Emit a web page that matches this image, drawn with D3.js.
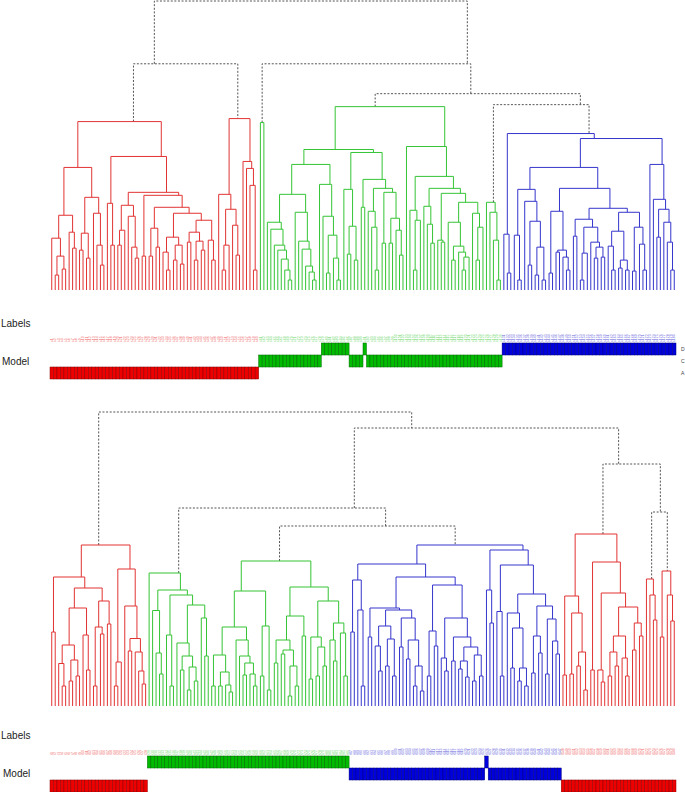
<!DOCTYPE html>
<html>
<head>
<meta charset="utf-8">
<script src="https://cdn.jsdelivr.net/npm/d3@7/dist/d3.min.js"></script>
<style>
  body { margin: 0; background: #fff; }
  svg { display: block; }
  text { font-family: "Liberation Sans", Arial, sans-serif; }
</style>
</head>
<body>
<div id="chart"></div>
<script>
// node = [height, left, right, cluster class], leaf = 0
var L = 0;

// ---- top dendrogram ----
var topRedA = [16.9,
    [12.3,
        [7.5, [5.2, L, [3.4, [1.5, L, L], [2.1, L, L]]], [5.8, L, [4.2, L, L]]],
        [9.3, [5.7, [4.0, L, L], [3.2, L, L]], [7.7, L, [4.5, L, [2.5, L, L]]]]],
    [13.4,
        [8.7, L, [4.5, L, L]],
        [9.8,
            [8.5, [6.0, [4.5, L, L], L], [7.4, L, [4.3, L, [3.2, L, L]]]],
            [9.5, [3.4, L, L],
                [8.3, [6.2, [3.4, L, L], [4.3, L, L]],
                    [7.7, [5.3, [3.8, L, [2.0, L, L]], [4.5, [3.0, L, L], [2.6, L, L]]],
                        [7.0, [5.8, [4.8, L, L], [4.9, [3.0, L, L], [4.0, L, L]]], [5.0, L, [3.0, L, L]]]]]]]],
    "A"];
var topRedB = [17.2,
    [9.6, L, [8.1, [4.5, [2.0, L, L], L], [6.5, L, [3.5, L, L]]]],
    [12.9, L, [12.2, L, [10.5, L, [2.0, L, L]]]],
    "A"];
var topGreenPair = [16.8, L, L, "C"];
var topGreenMain = [18.4,
    [14.1,
        [12.6,
            [9.6, [6.8, L, [6.1, L, [4.5, L, [4.0, L, [3.1, L, [2.0, L, [1.0, L, L]]]]]]],
                  [7.8, L, [4.9, L, [4.1, L, [2.4, L, [1.8, L, [1.0, L, L]]]]]]],
            [10.6, L, [7.4, L, [5.5, [1.7, L, L], [3.2, L, [1.0, L, L]]]]]],
        [13.8,
            [10.1, L, [6.4, [3.6, L, L], [3.0, L, L]]],
            [11.1, [8.3, L, L],
                [10.2, [7.9, L, [6.3, L, [2.0, L, L]]],
                       [9.8, [4.7, L, L], [7.2, [4.7, L, L], [6.0, L, [3.5, L, L]]]]]]]],
    [14.4, L,
        [11.4, [8.0, L, [7.0, [2.0, L, L], L]],
            [10.2, [8.4, L, [6.6, L, [4.7, L, L]]],
                [9.7, [5.0, L, [4.8, L, L]],
                    [8.8, [6.8, L, [4.4, [3.0, L, L], [3.8, L, [3.3, [2.0, L, L], L]]]],
                          [7.7, L, [6.3, [3.0, L, L], L]]]]]]],
    "C"];
var topGreenSmall = [8.8, L, [7.8, L, [5.0, L, [1.0, L, L]]], "C"];
var topBlue = [15.7,
    [5.6, L, [1.7, L, L]],
    [15.2,
        [12.3,
            [10.1, [5.5, L, [1.0, L, L]], [8.9, L, [6.9, [2.5, L, L], [4.3, [1.5, L, L], [1.0, L, L]]]]],
            [10.2,
                [7.9, [1.7, L, L], [4.0, [3.8, L, L], [3.3, L, [2.0, L, L]]]],
                [8.2,
                    [7.1, [5.4, L, L], [6.3, [3.7, [1.0, L, L], L], [4.8, L, [4.3, [3.2, L, L], [3.3, L, L]]]]],
                    [7.8, [5.9, [4.4, L, [2.0, L, L]], [3.0, [2.2, L, L], [2.0, L, L]]],
                          [6.3, [1.9, L, L], [4.6, L, [2.0, L, L]]]]]]],
        [12.6, L, [9.1, L, [8.1, [5.3, L, L], [6.8, L, [4.8, L, [2.0, L, L]]]]]]],
    "D"];
var topTree = [29.0,
    [22.7, topRedA, topRedB],
    [22.7, topGreenPair, [19.7, topGreenMain, [18.6, topGreenSmall, topBlue]]]];

// ---- bottom dendrogram ----
var botRedLeft = [16.1,
    [12.9, [7.4, L, L],
        [11.8,
            [9.8, [6.1, [4.25, L, [2.0, L, L]], [4.6, [2.5, L, L], [3.0, L, L]]], [7.1, L, [3.6, L, L]]],
            [10.5, [7.9, [2.0, L, L], [7.2, L, L]], [8.2, L, L]]]],
    [13.7, [4.4, [2.0, L, L], L],
        [10.0, L, [6.75, [5.5, L, L], [5.4, L, [3.5, L, [2.2, L, L]]]]]],
    "A"];
var botGreen1 = [13.3, L,
    [11.6,
        [9.55, L, [5.3, L, [3.2, L, L]]],
        [11.1, [7.1, L, [2.0, L, L]],
            [10.1, [6.3, L, [5.0, [3.6, L, L], [3.9, [1.6, L, L], [2.5, L, L]]]],
                   [8.8, L, [5.0, L, L]]]]],
    "C"];
var botGreen2 = [14.5,
    [11.5,
        [7.9, [5.1, [2.0, L, L], [3.4, [2.0, L, L], [2.1, L, [1.4, L, L]]]],
              [6.6, L, [5.0, L, [4.3, [3.1, L, L], [3.2, L, [2.0, L, L]]]]]],
        [8.0, [3.0, L, L], [1.6, L, L]]],
    [11.9,
        [9.0, [6.6, [4.3, L, L], [5.6, [5.2, L, L], [4.0, [1.0, L, L], [2.0, L, L]]]], [7.0, L, L]],
        [10.5, [6.9, [2.7, L, L], [5.9, [3.0, L, L], [4.0, L, L]]],
               [8.3, [6.6, L, [4.5, L, L]], [7.3, L, [3.0, L, L]]]]],
    "C"];
var botBlue = [16.1,
    [14.2,
        [12.6, [7.4, L, L], [9.6, L, [2.0, L, L]]],
        [12.9,
            [9.8, [6.9, L, L],
                [9.6, [8.0, [6.0, L, [3.5, L, L]], [6.7, [4.0, L, L], [3.0, L, L]]],
                      [8.8, [5.9, L, L], [6.6, [4.7, L, L], [4.0, [2.0, L, L], [1.5, L, L]]]]]],
            [12.1, [7.5, [3.0, L, L], [6.0, L, L]],
                [8.8, [4.8, L, [3.5, L, L]],
                      [6.9, [4.5, L, L], [5.9, [4.5, [3.7, L, L], [2.9, L, L]], [5.1, [2.5, L, L], [3.0, L, L]]]]]]]],
    [15.6, [11.6, L, [8.3, L, L]],
        [14.1, [9.45, L, [3.0, L, L]],
            [11.2, [9.3, L, [7.8, [3.8, L, L], [3.8, [2.5, L, L], [2.0, L, L]]]],
                   [10.0, [7.0, [3.3, L, L], [5.3, L, L]], [8.7, [3.2, L, L], [6.5, L, [5.2, L, L]]]]]]],
    "D"];
var botRedRight1 = [17.2,
    [11.0, [3.1, L, L], [9.3, [3.2, L, L], [5.4, [4.0, L, L], [1.6, L, L]]]],
    [14.4, [3.6, L, L],
        [11.3, [3.6, L, [2.4, L, L]],
            [9.9, [7.0, [5.4, [3.0, L, L], [4.0, L, L]], [4.8, L, [3.0, L, L]]],
                  [8.3, [5.6, L, L], [7.0, L, L]]]]],
    "A"];
var botRedRight2 = [12.7, L, [11.1, L, [8.6, L, L]], "A"];
var botRedRight3 = [13.5, [6.9, L, L], [11.1, L, [8.5, L, L]], "A"];
var botTree = [29.4,
    botRedLeft,
    [27.8,
        [19.8, botGreen1, [18.0, botGreen2, botBlue]],
        [24.2, botRedRight1, [19.4, botRedRight2, botRedRight3]]]];

// ---- model assignments (class, run length) in leaf order ----
var topModel = [["A", 60], ["C", 18], ["D", 8], ["C", 4], ["D", 1], ["C", 39], ["D", 50]];
var botModel = [["A", 28], ["C", 58], ["D", 39], ["C", 1], ["D", 21], ["A", 33]];
var topRows = ["D", "C", "A"];
var botRows = ["C", "D", "A"];

var lineColor = { A: "#e23333", C: "#35c435", D: "#3535cc" };
var labelColor = { A: "#f06a6a", C: "#6cd86c", D: "#6a6ae0" };
var cellColor = { A: "#ee0000", C: "#00bb00", D: "#0000dd" };

var width = 685, height = 792;
var svg = d3.select("#chart").append("svg")
    .attr("width", width)
    .attr("height", height);

function drawPanel(cfg) {
    var g = svg.append("g");
    var root = d3.hierarchy(cfg.tree, function (d) {
        return Array.isArray(d) ? [d[1], d[2]] : null;
    });
    var leaves = root.leaves();
    var x = d3.scaleBand()
        .domain(d3.range(leaves.length))
        .range([50, 676]);
    var bw = x.bandwidth();
    var y = d3.scaleLinear()
        .domain([0, cfg.tree[0]])
        .range([cfg.base, cfg.top]);

    leaves.forEach(function (l, i) { l.idx = i; });
    root.eachAfter(function (n) {
        if (!n.children) {
            n.px = x(n.idx) + bw / 2;
            n.first = n.last = n.px;
            n.h = 0;
        } else {
            n.first = n.children[0].first;
            n.last = n.children[1].last;
            n.px = (n.first + n.last) / 2;
            n.h = n.data[0];
        }
    });
    root.eachBefore(function (n) {
        var own = Array.isArray(n.data) && n.data[3];
        n.cls = own || (n.parent ? n.parent.cls : null);
    });

    var inner = root.descendants().filter(function (n) { return n.children; });
    g.selectAll(".link")
        .data(inner)
        .enter().append("path")
        .attr("class", "link")
        .attr("fill", "none")
        .attr("d", function (n) {
            var a = n.children[0], b = n.children[1];
            return "M" + a.px + "," + y(a.h) + "V" + y(n.h) + "H" + b.px + "V" + y(b.h);
        })
        .attr("stroke", function (n) { return n.cls ? lineColor[n.cls] : "#555"; })
        .attr("stroke-width", 1)
        .attr("stroke-dasharray", function (n) { return n.cls ? null : "2,1.6"; });

    // sample labels strip
    g.selectAll(".lab")
        .data(leaves)
        .enter().append("text")
        .attr("class", "lab")
        .attr("transform", function (l) {
            return "translate(" + (l.px + 1.2) + "," + cfg.stripBottom + ") rotate(-90)";
        })
        .attr("font-size", 3.5)
        .attr("fill", function (l) { return labelColor[l.cls]; })
        .text(function (l, i) { return cfg.prefix + (i + 1); });

    // model cells
    var model = [];
    cfg.model.forEach(function (r) {
        for (var k = 0; k < r[1]; k++) model.push(r[0]);
    });
    var row = d3.scaleBand().domain(cfg.rows).range([cfg.rowTop, cfg.rowTop + 36]);
    g.selectAll(".cell")
        .data(leaves)
        .enter().append("rect")
        .attr("class", "cell")
        .attr("x", function (l) { return x(l.idx); })
        .attr("y", function (l) { return row(model[l.idx]); })
        .attr("width", bw)
        .attr("height", row.bandwidth())
        .attr("fill", function (l) { return cellColor[l.cls]; })
        .attr("stroke", function (l) { return d3.color(cellColor[l.cls]).darker(1.6); })
        .attr("stroke-width", 0.5);

    if (cfg.rowNames) {
        g.selectAll(".rowname")
            .data(cfg.rows)
            .enter().append("text")
            .attr("x", 681)
            .attr("y", function (r) { return row(r) + row.bandwidth() / 2 + 2; })
            .attr("font-size", 5)
            .attr("fill", "#444")
            .text(function (r) { return r; });
    }

    g.append("text")
        .attr("x", cfg.labelsX).attr("y", cfg.labelsY)
        .attr("font-size", 10).attr("fill", "#222")
        .text("Labels");
    g.append("text")
        .attr("x", cfg.modelX).attr("y", cfg.modelY)
        .attr("font-size", 10).attr("fill", "#222")
        .text("Model");
}

drawPanel({
    tree: topTree, model: topModel, rows: topRows, rowNames: true,
    top: 1, base: 290, stripBottom: 342, rowTop: 343,
    labelsX: 1, labelsY: 327, modelX: 2, modelY: 365, prefix: "s"
});
drawPanel({
    tree: botTree, model: botModel, rows: botRows, rowNames: false,
    top: 412, base: 706, stripBottom: 755, rowTop: 756,
    labelsX: 1, labelsY: 739, modelX: 3, modelY: 777, prefix: "t"
});
</script>
</body>
</html>
